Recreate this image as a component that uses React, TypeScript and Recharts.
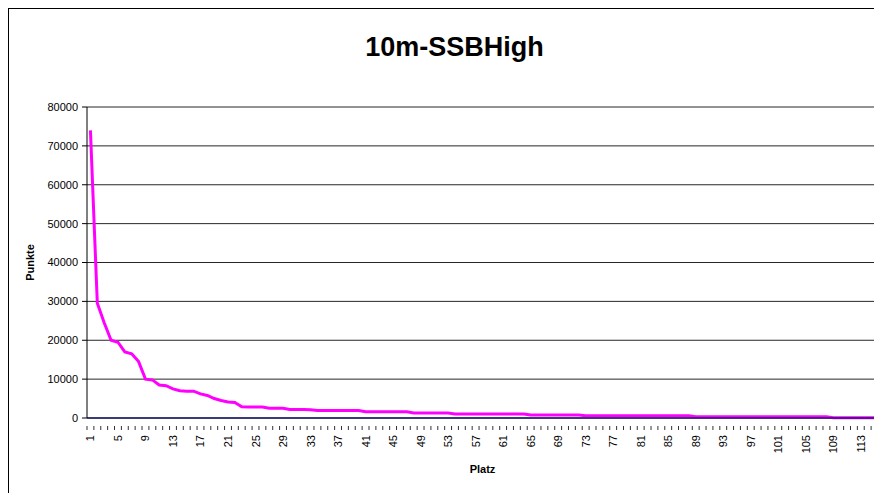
import React from 'react';
import { LineChart, Line, XAxis, YAxis, CartesianGrid } from 'recharts';

// Platz 1..115
const places = Array.from({ length: 115 }, (_, i) => String(i + 1));

// Punkte per Platz
const points = [
    74000, 29500, 24500, 20000, 19500, 17000, 16500, 14500, 10000, 9800,
    8500, 8300, 7500, 7000, 6900, 6900, 6200, 5800, 5000, 4500,
    4100, 4000, 2900, 2800, 2800, 2800, 2500, 2500, 2500, 2200,
    2200, 2200, 2100, 1900, 1900, 1900, 1900, 1900, 1900, 1900,
    1600, 1600, 1600, 1600, 1600, 1600, 1600, 1300, 1300, 1300,
    1300, 1300, 1300, 1050, 1050, 1050, 1050, 1050, 1050, 1050,
    1050, 1050, 1050, 1050, 750, 750, 750, 750, 750, 750,
    750, 750, 550, 550, 550, 550, 550, 550, 550, 550,
    550, 550, 550, 550, 550, 550, 550, 550, 300, 300,
    300, 300, 300, 300, 300, 300, 300, 300, 300, 300,
    300, 300, 300, 300, 300, 300, 300, 300, 80, 80,
    80, 80, 80, 80, 80
];

const yTicks = [0, 10000, 20000, 30000, 40000, 50000, 60000, 70000, 80000];

const chartData = places.map((p, i) => ({ platz: p, punkte: points[i] }));

const FONT = '"Liberation Sans", Arial, sans-serif';
const BAND = 791 / places.length;

const PlatzTick = (props: any) => {
    const { x, y, payload, index } = props;
    const showLabel = index % 4 === 0;
    return (
        <g>
            {index === 0 && <line x1={x - BAND / 2} y1={y} x2={x - BAND / 2} y2={y + 4} stroke="#333" />}
            <line x1={x + BAND / 2} y1={y} x2={x + BAND / 2} y2={y + 4} stroke="#333" />
            {showLabel && (
                <text
                    x={x}
                    y={y + 9}
                    transform={`rotate(-90 ${x} ${y + 9})`}
                    textAnchor="end"
                    dominantBaseline="central"
                    fontSize={11}
                    fontFamily={FONT}
                    fill="#000"
                >
                    {payload.value}
                </text>
            )}
        </g>
    );
};

export default function App() {
    return (
        <div
            style={{
                position: 'relative',
                width: 873,
                height: 485,
                boxSizing: 'border-box',
                borderLeft: '1px solid #000',
                borderTop: '1px solid #000',
                borderRight: '1px solid #000',
                fontFamily: FONT,
                overflow: 'hidden'
            }}
        >
            <div
                style={{
                    position: 'absolute',
                    left: 0,
                    width: 891,
                    top: 22,
                    textAlign: 'center',
                    fontSize: 27,
                    fontWeight: 'bold',
                    lineHeight: '32px',
                    color: '#000'
                }}
            >
                10m-SSBHigh
            </div>
            <LineChart
                width={871}
                height={484}
                data={chartData}
                margin={{ top: 98, right: 2, left: 0, bottom: 0 }}
            >
                <CartesianGrid horizontal vertical={false} stroke="#000" strokeOpacity={0.85} />
                <XAxis
                    dataKey="platz"
                    interval={0}
                    height={75}
                    padding={{ left: BAND / 2, right: BAND / 2 }}
                    tickLine={false}
                    axisLine={{ stroke: '#1c1c6e', strokeWidth: 1.5 }}
                    tick={<PlatzTick />}
                    label={{
                        value: 'Platz',
                        position: 'insideBottom',
                        offset: 20,
                        style: { fontSize: 11, fontWeight: 'bold', fill: '#000', fontFamily: FONT }
                    }}
                />
                <YAxis
                    width={78}
                    domain={[0, 80000]}
                    ticks={yTicks}
                    interval={0}
                    tickSize={5}
                    tickMargin={4}
                    axisLine={{ stroke: '#000' }}
                    tickLine={{ stroke: '#000' }}
                    tick={{ fontSize: 11, fill: '#000', fontFamily: FONT }}
                    label={{
                        value: 'Punkte',
                        angle: -90,
                        position: 'insideLeft',
                        offset: 21,
                        style: { fontSize: 11, fontWeight: 'bold', fill: '#000', fontFamily: FONT, textAnchor: 'middle' }
                    }}
                />
                <Line
                    type="linear"
                    dataKey="punkte"
                    stroke="#ff00ff"
                    strokeWidth={3}
                    dot={false}
                    isAnimationActive={false}
                />
            </LineChart>
        </div>
    );
}
